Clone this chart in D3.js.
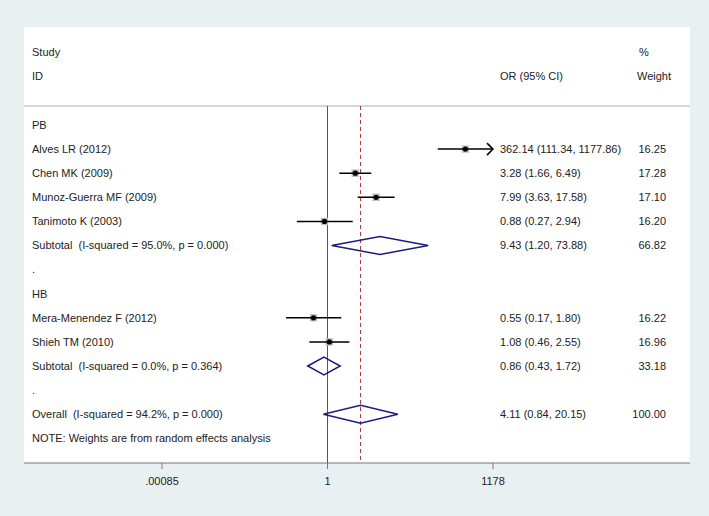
<!DOCTYPE html>
<html>
<head>
<meta charset="utf-8">
<script src="https://cdn.jsdelivr.net/npm/d3@7"></script>
<style>
  body { margin: 0; background: #e9f0f2; }
  text { font-family: "Liberation Sans", Arial, sans-serif; font-size: 11px; fill: #222; white-space: pre; }
</style>
</head>
<body>
<script>
// rows, top to bottom (below the header)
const rowLabels = ["PB", "Alves LR (2012)", "Chen MK (2009)", "Munoz-Guerra MF (2009)", "Tanimoto K (2003)",
    "Subtotal  (I-squared = 95.0%, p = 0.000)", ".", "HB", "Mera-Menendez F (2012)", "Shieh TM (2010)",
    "Subtotal  (I-squared = 0.0%, p = 0.364)", ".", "Overall  (I-squared = 94.2%, p = 0.000)",
    "NOTE: Weights are from random effects analysis"];
const rowType = ["group", "study", "study", "study", "study", "pooled", "blank", "group", "study", "study",
    "pooled", "blank", "pooled", "note"];
const orValue = [null, 362.14, 3.28, 7.99, 0.88, 9.43, null, null, 0.55, 1.08, 0.86, null, 4.11, null];
const ciLow = [null, 111.34, 1.66, 3.63, 0.27, 1.20, null, null, 0.17, 0.46, 0.43, null, 0.84, null];
const ciHigh = [null, 1177.86, 6.49, 17.58, 2.94, 73.88, null, null, 1.80, 2.55, 1.72, null, 20.15, null];
const weights = [null, 16.25, 17.28, 17.10, 16.20, 66.82, null, null, 16.22, 16.96, 33.18, null, 100.00, null];
const tickValues = [0.00085, 1, 1178];
const tickLabels = [".00085", "1", "1178"];
const overallOR = 4.11;

let width = 709;
let height = 516;
let panelLeft = 24, panelRight = 690, panelTop = 27, panelBottom = 463;

const svg = d3.select("body").append("svg")
    .attr("width", width)
    .attr("height", height);

// white plot region
svg.append("rect")
    .attr("x", panelLeft).attr("y", panelTop)
    .attr("width", panelRight - panelLeft).attr("height", panelBottom - panelTop)
    .attr("fill", "#fff");

const xScale = d3.scaleLog()
    .domain([0.00085, 1178])
    .range([162, 493]);

const yScale = d3.scalePoint()
    .domain(d3.range(rowLabels.length))
    .range([125, 438.3]);

const fmt = d3.format(".2f");

// header
const header = svg.append("g");
header.append("text").attr("x", 32).attr("y", 52).attr("dy", "0.35em").text("Study");
header.append("text").attr("x", 32).attr("y", 76).attr("dy", "0.35em").text("ID");
header.append("text").attr("x", 500).attr("y", 76).attr("dy", "0.35em").text("OR (95% CI)");
header.append("text").attr("x", 639).attr("y", 52).attr("dy", "0.35em").text("%");
header.append("text").attr("x", 637).attr("y", 76).attr("dy", "0.35em").text("Weight");

// divider under header
svg.append("line")
    .attr("x1", panelLeft).attr("x2", panelRight)
    .attr("y1", 106).attr("y2", 106)
    .attr("stroke", "#c8c8c8").attr("stroke-width", 1.5);

// null line and overall line
svg.append("line")
    .attr("x1", xScale(1)).attr("x2", xScale(1))
    .attr("y1", 106).attr("y2", panelBottom)
    .attr("stroke", "#555").attr("stroke-width", 1);
svg.append("line")
    .attr("x1", xScale(overallOR)).attr("x2", xScale(overallOR))
    .attr("y1", 106).attr("y2", panelBottom)
    .attr("stroke", "#b0303a").attr("stroke-width", 1)
    .attr("stroke-dasharray", "4,3");

const rows = rowLabels.map((label, i) => ({
    i: i, label: label, type: rowType[i], or: orValue[i], lo: ciLow[i], hi: ciHigh[i], w: weights[i]
}));

// row labels
svg.append("g").selectAll("text")
    .data(rows)
    .join("text")
    .attr("x", 32)
    .attr("y", d => yScale(d.i))
    .attr("dy", "0.35em")
    .text(d => d.label);

const withEst = rows.filter(d => d.or !== null);

// estimate text and weights
svg.append("g").selectAll("text")
    .data(withEst)
    .join("text")
    .attr("x", 500)
    .attr("y", d => yScale(d.i))
    .attr("dy", "0.35em")
    .text(d => fmt(d.or) + " (" + fmt(d.lo) + ", " + fmt(d.hi) + ")");
svg.append("g").selectAll("text")
    .data(withEst)
    .join("text")
    .attr("x", 666)
    .attr("y", d => yScale(d.i))
    .attr("dy", "0.35em")
    .attr("text-anchor", "end")
    .text(d => fmt(d.w));

const studies = withEst.filter(d => d.type === "study");
const xMax = xScale.domain()[1];
// upper limit reaches the end of the axis (axis max is the rounded CI bound)
const offScale = d => d.hi >= xMax - 1;

// weight boxes
svg.append("g").selectAll("rect")
    .data(studies)
    .join("rect")
    .attr("x", d => xScale(d.or) - Math.sqrt(d.w) * 0.9)
    .attr("y", d => yScale(d.i) - Math.sqrt(d.w) * 0.9)
    .attr("width", d => Math.sqrt(d.w) * 1.8)
    .attr("height", d => Math.sqrt(d.w) * 1.8)
    .attr("fill", "#bdbdbd");

// confidence intervals
svg.append("g").selectAll("line")
    .data(studies)
    .join("line")
    .attr("x1", d => xScale(d.lo))
    .attr("x2", d => xScale(Math.min(d.hi, xMax)))
    .attr("y1", d => yScale(d.i))
    .attr("y2", d => yScale(d.i))
    .attr("stroke", "#000")
    .attr("stroke-width", 1.5);

// arrow where the interval runs off the scale
svg.append("g").selectAll("path")
    .data(studies.filter(offScale))
    .join("path")
    .attr("d", d => {
        const x = xScale(xMax), y = yScale(d.i);
        return "M" + (x - 6) + "," + (y - 6) + "L" + x + "," + y + "L" + (x - 6) + "," + (y + 6);
    })
    .attr("fill", "none")
    .attr("stroke", "#000")
    .attr("stroke-width", 1.5);

// point estimates
svg.append("g").selectAll("circle")
    .data(studies)
    .join("circle")
    .attr("cx", d => xScale(d.or))
    .attr("cy", d => yScale(d.i))
    .attr("r", 2.6)
    .attr("fill", "#000");

// pooled diamonds
svg.append("g").selectAll("path")
    .data(withEst.filter(d => d.type === "pooled"))
    .join("path")
    .attr("d", d => {
        const y = yScale(d.i), h = 9;
        return "M" + xScale(d.lo) + "," + y + "L" + xScale(d.or) + "," + (y - h) +
            "L" + xScale(d.hi) + "," + y + "L" + xScale(d.or) + "," + (y + h) + "Z";
    })
    .attr("fill", "none")
    .attr("stroke", "#1c1c80")
    .attr("stroke-width", 1.5);

// x axis
const axis = svg.append("g");
axis.append("line")
    .attr("x1", panelLeft).attr("x2", panelRight)
    .attr("y1", panelBottom).attr("y2", panelBottom)
    .attr("stroke", "#777").attr("stroke-width", 1.2);
axis.selectAll("line.tick")
    .data(tickValues)
    .join("line")
    .attr("class", "tick")
    .attr("x1", d => xScale(d)).attr("x2", d => xScale(d))
    .attr("y1", panelBottom).attr("y2", panelBottom + 6)
    .attr("stroke", "#777");
axis.selectAll("text")
    .data(tickValues)
    .join("text")
    .attr("x", d => xScale(d))
    .attr("y", 481)
    .attr("dy", "0.35em")
    .attr("text-anchor", "middle")
    .text((d, i) => tickLabels[i]);
</script>
</body>
</html>
